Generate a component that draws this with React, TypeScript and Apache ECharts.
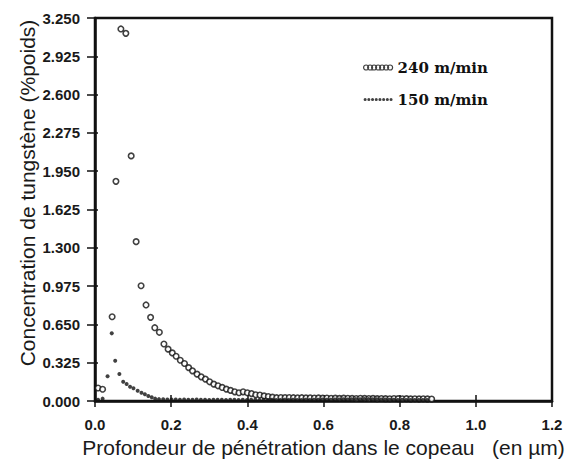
import React, { useEffect, useRef } from "react";
import * as echarts from "echarts";

// Depth into the chip (µm) and tungsten concentration (% weight)
const depth240 = [
  0.008, 0.020, 0.045, 0.055, 0.068, 0.081, 0.095, 0.108, 0.121, 0.134,
  0.146, 0.157, 0.169, 0.181, 0.192, 0.203, 0.213, 0.224, 0.235, 0.246,
  0.256, 0.268, 0.279, 0.290, 0.301, 0.312, 0.323, 0.334, 0.345, 0.356,
  0.367, 0.378, 0.389, 0.400, 0.411, 0.422, 0.433, 0.444, 0.455, 0.466,
  0.477, 0.488, 0.499, 0.510, 0.521, 0.532, 0.543, 0.554, 0.565, 0.576,
  0.587, 0.598, 0.609, 0.620, 0.631, 0.642, 0.653, 0.664, 0.675, 0.686,
  0.697, 0.708, 0.719, 0.730, 0.741, 0.752, 0.763, 0.774, 0.785, 0.796,
  0.807, 0.818, 0.829, 0.840, 0.851, 0.862, 0.873, 0.884,
];
const conc240 = [
  0.11, 0.10, 0.715, 1.864, 3.157, 3.12, 2.08, 1.352, 0.978, 0.815,
  0.71, 0.622, 0.583, 0.484, 0.44, 0.408, 0.38, 0.346, 0.318, 0.283,
  0.256, 0.228, 0.205, 0.186, 0.163, 0.143, 0.129, 0.115, 0.101, 0.09,
  0.078, 0.07, 0.078, 0.07, 0.063, 0.053, 0.051, 0.043, 0.038, 0.033,
  0.028, 0.030, 0.029, 0.030, 0.028, 0.027, 0.028, 0.026, 0.027, 0.025,
  0.026, 0.024, 0.025, 0.023, 0.024, 0.022, 0.024, 0.023, 0.022, 0.021,
  0.023, 0.022, 0.021, 0.022, 0.020, 0.021, 0.020, 0.019, 0.021, 0.020,
  0.019, 0.020, 0.018, 0.019, 0.018, 0.019, 0.018, 0.017,
];

const depth150 = [
  0.008, 0.020, 0.033, 0.044, 0.053, 0.064, 0.074, 0.083, 0.092, 0.101,
  0.112, 0.122, 0.131, 0.140, 0.149, 0.158, 0.168, 0.179, 0.190, 0.201,
  0.212, 0.223, 0.234, 0.245, 0.256, 0.267, 0.278, 0.289, 0.300, 0.311,
  0.322, 0.333, 0.344, 0.355, 0.366, 0.377, 0.388, 0.399, 0.410, 0.421,
  0.432, 0.443, 0.454, 0.465, 0.476, 0.487, 0.498, 0.509, 0.520, 0.531,
  0.542, 0.553, 0.564, 0.575, 0.586, 0.597, 0.608, 0.619, 0.630, 0.641,
  0.652, 0.663, 0.674, 0.685, 0.696, 0.707, 0.718, 0.729, 0.740, 0.751,
  0.762, 0.773, 0.784, 0.795, 0.806, 0.817, 0.828, 0.839, 0.850, 0.861,
  0.872,
];
const conc150 = [
  0.01, 0.02, 0.21, 0.574, 0.342, 0.229, 0.164, 0.144, 0.121, 0.108,
  0.087, 0.07, 0.057, 0.042, 0.031, 0.02, 0.016, 0.014, 0.013, 0.012,
  0.013, 0.011, 0.012, 0.010, 0.011, 0.012, 0.010, 0.011, 0.009, 0.010,
  0.011, 0.010, 0.009, 0.010, 0.011, 0.009, 0.010, 0.009, 0.010, 0.011,
  0.009, 0.010, 0.009, 0.010, 0.008, 0.009, 0.010, 0.009, 0.010, 0.009,
  0.008, 0.010, 0.009, 0.010, 0.011, 0.012, 0.010, 0.011, 0.013, 0.012,
  0.014, 0.013, 0.015, 0.016, 0.015, 0.017, 0.016, 0.015, 0.014, 0.013,
  0.012, 0.011, 0.010, 0.009, 0.010, 0.009, 0.008, 0.009, 0.008, 0.009,
  0.008,
];

const seriesNames = ["240 m/min", "150 m/min"];
const xTicks = { min: 0, max: 1.2, interval: 0.2 };
const yTicks = { min: 0, max: 3.25, interval: 0.325 };
const xTitle = "Profondeur de pénétration dans le copeau   (en µm)";
const yTitle = "Concentration de tungstène (%poids)";

function ringChain(n: number, r: number, step: number) {
  let d = "path://";
  for (let i = 0; i < n; i++) {
    const x = i * step;
    d += `M${x},${r}a${r},${r} 0 1,0 ${2 * r},0a${r},${r} 0 1,0 ${-2 * r},0`;
  }
  return d;
}

export default function App() {
  const ref = useRef<HTMLDivElement>(null);
  useEffect(() => {
    if (!ref.current) return;
    const chart = echarts.init(ref.current, undefined, { renderer: "svg" });
    const ink = "#111";
    const grid = { left: 95, right: 23, top: 18, bottom: 69 };
    const tickFont = {
      fontFamily: "Liberation Sans",
      fontSize: 15,
      fontWeight: "bold" as const,
      color: "#1a1a1a",
    };
    chart.setOption({
      animation: false,
      backgroundColor: "#fff",
      grid: [
        { ...grid, show: true, borderColor: ink, borderWidth: 2.5 },
        { ...grid, show: false },
      ],
      xAxis: [
        {
          type: "value",
          gridIndex: 0,
          ...xTicks,
          axisLine: { show: true, lineStyle: { color: ink, width: 2.5 } },
          axisTick: { show: true, length: 6, lineStyle: { color: ink, width: 1.5 } },
          axisLabel: { ...tickFont, margin: 16, formatter: (v: number) => v.toFixed(1) },
          splitLine: { show: false },
          name: xTitle,
          nameLocation: "middle",
          nameGap: 35,
          nameTextStyle: { fontFamily: "Liberation Sans", fontSize: 21, color: "#1a1a1a" },
        },
        {
          type: "value",
          gridIndex: 1,
          ...xTicks,
          axisLine: { show: false },
          axisTick: { show: true, inside: true, length: 6, lineStyle: { color: ink, width: 1.5 } },
          axisLabel: { show: false },
          splitLine: { show: false },
        },
      ],
      yAxis: [
        {
          type: "value",
          gridIndex: 0,
          ...yTicks,
          axisLine: { show: true, lineStyle: { color: ink, width: 2.5 } },
          axisTick: { show: true, length: 8, lineStyle: { color: ink, width: 1.5 } },
          axisLabel: { ...tickFont, margin: 15, formatter: (v: number) => v.toFixed(3) },
          splitLine: { show: false },
        },
        {
          type: "value",
          gridIndex: 1,
          ...yTicks,
          axisLine: { show: false },
          axisTick: { show: true, inside: true, length: 3, lineStyle: { color: ink, width: 1.5 } },
          axisLabel: { show: false },
          splitLine: { show: false },
        },
      ],
      legend: {
        left: 358,
        top: 55,
        orient: "vertical",
        itemWidth: 29,
        itemHeight: 5,
        itemGap: 17,
        textStyle: {
          fontFamily: "DejaVu Serif",
          fontWeight: "bold",
          fontSize: 15,
          color: ink,
        },
        data: [
          {
            name: seriesNames[0],
            icon: ringChain(7, 2.5, 4),
            itemStyle: { color: "#fff", borderColor: ink, borderWidth: 1.2 },
          },
          {
            name: seriesNames[1],
            icon: ringChain(8, 1.5, 3.6),
            itemStyle: { color: ink, borderWidth: 0 },
          },
        ],
      },
      graphic: [
        {
          type: "text",
          x: 27,
          y: 193,
          rotation: Math.PI / 2,
          style: {
            text: yTitle,
            fontFamily: "Liberation Sans",
            fontSize: 21,
            fill: "#1a1a1a",
            textAlign: "center",
            textVerticalAlign: "middle",
          },
        },
      ],
      series: [
        {
          name: seriesNames[0],
          type: "scatter",
          xAxisIndex: 0,
          yAxisIndex: 0,
          symbol: "circle",
          symbolSize: 5.5,
          itemStyle: { color: "#fff", borderColor: ink, borderWidth: 1.6 },
          data: depth240.map((x, i) => [x, conc240[i]]),
        },
        {
          name: seriesNames[1],
          type: "scatter",
          xAxisIndex: 0,
          yAxisIndex: 0,
          symbol: "circle",
          symbolSize: 4,
          itemStyle: { color: ink },
          data: depth150.map((x, i) => [x, conc150[i]]),
        },
      ],
    });
    return () => chart.dispose();
  }, []);
  return (
    <div
      ref={ref}
      style={{ position: "fixed", left: 0, top: 0, width: 575, height: 470 }}
    />
  );
}
